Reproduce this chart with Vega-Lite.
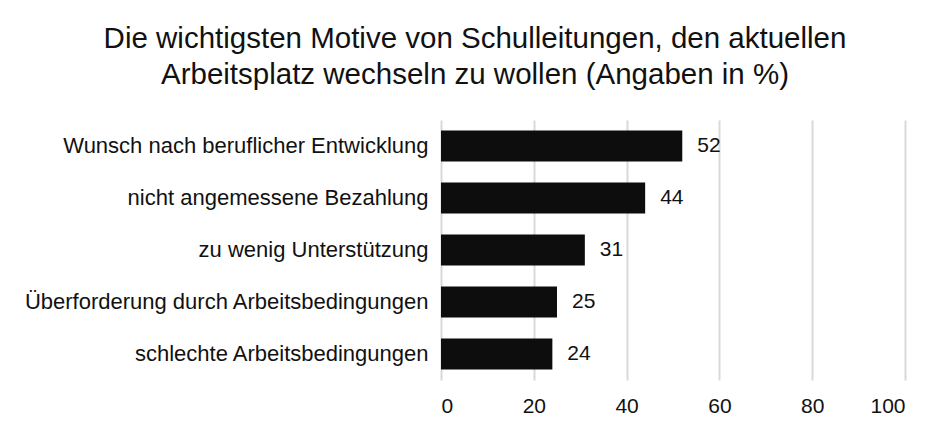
{
  "$schema": "https://vega.github.io/schema/vega-lite/v6.json",
  "width": 464,
  "height": 260,
  "autosize": {"type": "none"},
  "padding": {"left": 441, "top": 120, "right": 43, "bottom": 51},
  "background": "white",
  "title": {
    "text": ["Die wichtigsten Motive von Schulleitungen, den aktuellen", "Arbeitsplatz wechseln zu wollen (Angaben in %)"],
    "anchor": "middle",
    "frame": "group",
    "dx": -198,
    "offset": 30,
    "font": "Liberation Sans",
    "fontSize": 29.5,
    "fontWeight": "normal",
    "lineHeight": 36,
    "color": "#111111"
  },
  "data": {
    "values": [
      {"motiv": "Wunsch nach beruflicher Entwicklung", "wert": 52},
      {"motiv": "nicht angemessene Bezahlung", "wert": 44},
      {"motiv": "zu wenig Unterstützung", "wert": 31},
      {"motiv": "Überforderung durch Arbeitsbedingungen", "wert": 25},
      {"motiv": "schlechte Arbeitsbedingungen", "wert": 24}
    ]
  },
  "encoding": {
    "y": {
      "field": "motiv",
      "type": "nominal",
      "sort": null,
      "scale": {"paddingInner": 0.4, "paddingOuter": 0.2},
      "axis": {
        "title": null,
        "domain": false,
        "ticks": false,
        "labelPadding": 13,
        "labelFont": "Liberation Sans",
        "labelFontSize": 22,
        "labelColor": "#111111",
        "labelLimit": 440
      }
    },
    "x": {
      "field": "wert",
      "type": "quantitative",
      "scale": {"domain": [0, 100]},
      "axis": {
        "title": null,
        "values": [0, 20, 40, 60, 80, 100],
        "domain": false,
        "ticks": false,
        "grid": true,
        "gridColor": "#d9d9d9",
        "gridWidth": 2,
        "labelPadding": 15,
        "labelFont": "Liberation Sans",
        "labelFontSize": 21,
        "labelColor": "#111111"
      }
    }
  },
  "layer": [
    {"mark": {"type": "bar", "color": "#0d0d0d"}},
    {
      "mark": {"type": "text", "align": "left", "baseline": "middle", "dx": 15, "font": "Liberation Sans", "fontSize": 21, "color": "#111111"},
      "encoding": {"text": {"field": "wert", "type": "quantitative"}}
    }
  ],
  "config": {"view": {"stroke": null}}
}
